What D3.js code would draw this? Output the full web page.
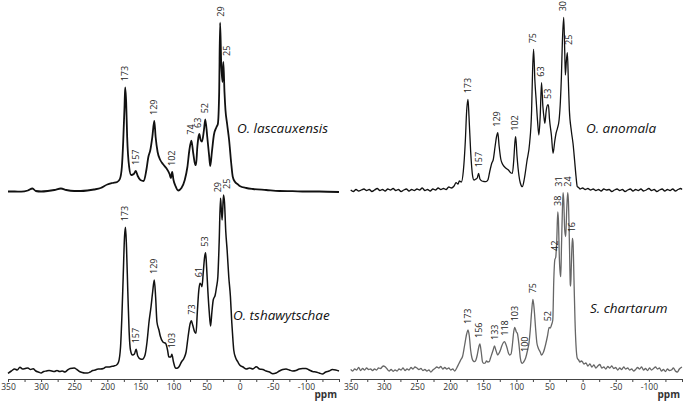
<!DOCTYPE html>
<html>
<head>
<meta charset="utf-8">
<script src="https://cdn.jsdelivr.net/npm/d3@7"></script>
<style>
  body { margin: 0; background: #fff; }
  svg { display: block; }
  text { font-family: "Open Sans", sans-serif; }
</style>
</head>
<body>
<svg id="chart" width="685" height="403"></svg>
<script>
// spectra: [ppm, intensity above baseline]
var lascauxensis = [[350,0.5],[340,0.5],[330,0.3],[320,1.5],[313,3.5],[308,1],[300,0.5],[290,1],[280,2],[270,3.5],[262,2],[250,1],[240,1],[230,1.5],[220,2.5],[210,4],[200,7.5],[192,9],[185,10],[181,13],[178,25],[176,50],[174,85],[173,104.7],[171.5,90],[170,55],[167,25],[164,17],[160,18],[157,21],[154,16],[150,12],[145,11],[141,22],[138,35],[135,42],[132,55],[129,71],[127,55],[124,40],[120,32],[116,28],[111,24],[106,18],[104,14],[102,20],[100,12],[97,6],[93,1.5],[88,4],[83,12],[79,25],[76,42],[73,51.3],[70,38],[67,27],[66,27],[64,45],[62,56],[61,58],[59,52],[57,50.3],[54,62],[52,72.7],[49,55],[46,35],[44.5,26],[42,40],[39,57],[35,65],[33,68],[31,100],[29.6,169.3],[28,130],[26,110],[24.7,130],[23,100],[21.5,82],[19,68],[16,52],[13,30],[10.5,15.3],[7,10],[3.5,8],[0,6],[-10,4],[-20,3],[-40,2],[-60,1],[-80,0.8],[-100,0.5],[-120,0.5],[-150,0]];
var lascauxensisPeaks = [173,157,129,102,74,63,52,29,25];

var anomala = [[350,1],[346,-0.5],[342,1.5],[338,0],[334,1],[330,2],[326,0.5],[322,1.5],[318,-0.5],[314,1],[310,2.5],[306,0.5],[302,1.5],[298,0],[294,2],[290,1],[286,2.5],[282,0.5],[278,1.5],[274,-0.5],[270,1],[266,2],[262,0],[258,1.5],[254,0.5],[250,2],[246,1],[242,3],[238,0.5],[234,1.5],[230,0],[226,2],[222,1],[218,3],[214,1.5],[210,2.5],[206,1.5],[202,4],[198,3],[194,5],[191,8.3],[188,7],[186,10],[183,9],[180,20],[177,50],[175,80],[173,91.7],[171.5,75],[169,40],[166,15],[164,11],[161,12],[159,13],[157,17.7],[155,12],[152,10],[149,9.5],[146,9.3],[143,11],[140,20],[137,28],[135,31],[132,45],[130,54],[128,58.3],[126,45],[123.5,32],[121.5,27.7],[119,25],[116,23],[112,21],[108,18],[106,17.7],[104,30],[102,50],[101,54.3],[99,35],[96,15],[94,8],[91,4.3],[88,12],[84,30],[80,47.7],[77,80],[75.5,120],[74,141.7],[72,110],[70,90],[68,70],[66,56],[64,75],[62,108.3],[60,85],[58,72],[57,67.7],[55,80],[53,86],[51.6,86],[50,72],[47,55],[44.6,37.7],[42,50],[40,58],[38,62.7],[35.5,71],[33.5,90],[32,114.3],[30.5,150],[28.5,173.7],[27,140],[26,116],[24.5,130],[23,138.3],[21.5,110],[20,81],[17,60],[14.5,47.7],[12,30],[10,15],[8,4.3],[6,3.5],[4,2],[0,3],[-4,1.5],[-8,2.5],[-12,1],[-16,2],[-20,0.5],[-24,1.5],[-28,0],[-32,2],[-36,1],[-40,1.5],[-44,-0.5],[-48,1],[-52,2],[-56,0.5],[-60,1.5],[-64,-0.5],[-68,1],[-72,2],[-76,0],[-80,1.5],[-84,0.5],[-88,2],[-92,0],[-96,1],[-100,2.5],[-104,0.5],[-108,1.5],[-112,-0.5],[-116,1],[-120,2],[-124,0],[-128,1.5],[-132,0.5],[-136,2],[-140,0],[-144,1.5],[-148,2.5],[-150,1.5]];
var anomalaPeaks = [173,157,129,102,75,63,53,30,25];

var tshawytschae = [[350,-1.3],[345,1],[340,3],[336,2],[332,4.7],[328,3],[324,3.5],[320,4],[316,2.5],[312,3.3],[308,1],[304,0],[300,-1],[296,0.5],[292,1],[288,1.5],[284,1],[280,0.5],[276,1.5],[272,0.5],[268,1],[264,0],[260,2],[256,3.5],[250,4],[246,2.5],[242,0.5],[238,-0.5],[234,-1],[230,-1],[226,0],[222,1.5],[218,2],[214,3],[210,3],[206,3.5],[202,5],[198,5],[194,5.5],[190,6],[186,7],[183,10],[180,25],[178,55],[176,95],[174,135],[172.5,144.7],[171,125],[169,80],[167,40],[165,22],[162,17],[159,18],[156.5,22.7],[154,16],[150,13],[147,12.7],[143,17],[140,30],[137,50],[134,65],[131.5,80],[129,92],[127,75],[125,50],[122,42],[120,36],[116,30],[112,28.7],[109,22],[107,15],[104,15],[102.5,17.7],[100,10],[97,4],[95,3.7],[92,5],[88,10],[84,14],[81,20],[78,35],[75,48],[73,51.3],[71,47],[68,40],[66,38.7],[64,60],[62,80],[60,88.7],[58,87],[57,85.3],[55,100],[53,115],[51.5,119.3],[50,105],[48,80],[46,60],[44,46],[42,60],[40,72],[37,77],[35,85],[33,95.3],[31,130],[29,173.7],[28,165],[26.5,152],[24.5,177],[23,170],[21,140],[19,122],[16.5,95],[14,75.3],[12,50],[10,30],[9,22],[6,14],[3,10.3],[0,7],[-5,5],[-10,3],[-15,4],[-20,3],[-25,5.3],[-30,3],[-35,2.5],[-40,1],[-45,0],[-50,-1.7],[-55,-1],[-60,1],[-65,2.5],[-70,3],[-75,2],[-80,1],[-85,1.5],[-90,3],[-95,3.5],[-100,3.5],[-105,2],[-110,0.5],[-115,0],[-120,-1],[-125,-2],[-130,0],[-135,1],[-140,2.5],[-145,2],[-150,1]];
var tshawytschaePeaks = [173,157,129,103,73,61,53,29,25];

var chartarum = [[350,0.7],[347,-1],[344,1],[341,0],[338,2.5],[335,-0.5],[332,1.5],[329,0],[326,2],[323,0.5],[320,1],[317,-0.5],[314,1],[311,0],[308,2],[305,1.5],[301,4],[298,3.3],[295,1],[292,-1],[289,0.5],[286,-1.3],[283,0],[280,-1],[277,1],[274,0],[271,2],[268,-0.5],[265,1],[262,0],[259,2.5],[256,1],[253,3],[250,2],[247,0.5],[244,1.5],[241,-0.5],[238,0.5],[235,-1],[232,0],[229,-2],[226,0],[223,1.5],[220,3],[217,2],[214,3.5],[211,1],[208,2.5],[205,1],[202,2],[199,0],[196,1],[193,-1],[190,2],[187,6],[184,10],[181,14],[178,25],[175,36],[173,40],[171,34],[169,20],[167,12],[165,9],[163,8.3],[161,10],[159,15],[157,22],[155,26],[153,18],[151,8],[149,6.7],[147,7],[145,9],[143,8],[141,8.3],[139,12],[137,16],[135,20],[133,24],[131,20],[129,16],[128,15],[126,17],[124,20],[122,24],[120,27],[118,28.3],[116,26],[114,22],[112,17],[110,15],[108,16],[106,25],[104,38],[102.5,42.7],[100,38],[98.5,36.7],[96,25],[94,12],[92,7],[91,6.7],[89,8],[86,12],[83,20],[81,26.7],[79,40],[77,58],[75,70.7],[73,60],[71,42],[69,27],[67,22],[64,18],[62,15],[59,18],[56,25],[53,34],[50.5,42.7],[49,42],[46.5,46],[45,50],[43.5,90],[42,110],[40.5,113],[39,130],[37.5,158],[36.5,150],[35,110],[33.5,95],[33,93.3],[32,120],[30.5,160],[29.5,177.3],[28.5,170],[27,140],[25.5,133.3],[24,160],[22.5,177.3],[21.5,170],[20,130],[18.5,85],[18,84],[17,105],[15.5,131.7],[14.5,128],[13,90],[11.5,50],[10,25],[8,11.7],[6,10],[4,8],[2,9],[0,8],[-2,6],[-5,7],[-8,4],[-11,6],[-14,3],[-17,5],[-20,2],[-23,4],[-26,5.5],[-29,2],[-32,3],[-35,1],[-38,3.5],[-41,2],[-44,4],[-47,1.5],[-50,2.5],[-53,0],[-56,2],[-59,0.5],[-62,3],[-65,1],[-68,2],[-71,0],[-74,1],[-77,-1],[-80,0.5],[-83,2.5],[-86,1],[-89,3],[-92,0],[-95,1.5],[-98,-0.5],[-101,2],[-104,0],[-107,1.5],[-110,3],[-113,1],[-116,2],[-119,-1],[-122,0.5],[-125,-1.5],[-128,1],[-131,-0.5],[-134,0],[-137,2],[-140,-1],[-143,-2],[-146,1],[-150,3]];
var chartarumPeaks = [173,156,133,118,103,100,75,52,42,38,31,24,16];

var tickValues = [350,325,300,275,250,225,200,175,150,125,100,75,50,25,0,-25,-50,-75,-100,-125,-150];

var svg = d3.select("#chart");

// moved: label drawn over another ppm; nudge: sideways pixel shift for crowded labels
var panels = [
  {name: "O. lascauxensis", data: lascauxensis, peaks: lascauxensisPeaks, x0: 8, x1: 339, base: 192, color: "#111", width: 1.8, nameX: 237, nameY: 133, axis: false, nudge: {25: 4}},
  {name: "O. anomala", data: anomala, peaks: anomalaPeaks, x0: 350.7, x1: 682, base: 191, color: "#111", width: 1.3, nameX: 586, nameY: 133, axis: false, nudge: {25: 3}},
  {name: "O. tshawytschae", data: tshawytschae, peaks: tshawytschaePeaks, x0: 8, x1: 339, base: 372, color: "#111", width: 1.5, nameX: 233, nameY: 320, axis: true, nudge: {29: -3, 25: 4}},
  {name: "S. chartarum", data: chartarum, peaks: chartarumPeaks, x0: 350.7, x1: 682, base: 370, color: "#666", width: 1.3, nameX: 590, nameY: 313, axis: true, moved: {100: 87}, nudge: {31: -3, 24: 1}}
];

panels.forEach(function(p){ drawPanel(p); });

function drawPanel(p){
  var x = d3.scaleLinear().domain([350, -150]).range([p.x0, p.x1]);
  var y = d3.scaleLinear().domain([0, 180]).range([p.base, p.base - 180]);
  var g = svg.append("g");

  var line = d3.line()
    .x(function(d){ return x(d[0]); })
    .y(function(d){ return y(d[1]); })
    .curve(d3.curveMonotoneX);

  g.append("path")
    .datum(p.data)
    .attr("d", line)
    .attr("fill", "none")
    .attr("stroke", p.color)
    .attr("stroke-width", p.width)
    .attr("stroke-linejoin", "round");

  // peak labels, sitting just above the local maximum
  g.selectAll("text.peak")
    .data(p.peaks)
    .enter()
    .append("text")
    .attr("class", "peak")
    .attr("transform", function(d){
      var at = (p.moved && p.moved[d]) ? p.moved[d] : d;
      var shift = (p.nudge && p.nudge[d]) ? p.nudge[d] : 0;
      var near = p.data.filter(function(v){ return Math.abs(v[0] - at) <= 2; });
      var top = d3.max(near, function(v){ return v[1]; });
      return "translate(" + (x(at) + shift) + "," + (y(top) - 6) + ") rotate(-90)";
    })
    .attr("dy", "0.35em")
    .attr("font-size", "9px")
    .attr("fill", "#222")
    .text(function(d){ return d; });

  g.append("text")
    .attr("x", p.nameX)
    .attr("y", p.nameY)
    .attr("font-size", "13.5px")
    .attr("font-style", "italic")
    .attr("fill", "#111")
    .text(p.name);

  if(p.axis){
    var axis = d3.axisBottom(x)
      .tickValues(tickValues)
      .tickSize(3)
      .tickSizeOuter(0)
      .tickPadding(2)
      .tickFormat(function(d){ return d % 50 === 0 && d > -150 ? String(d) : ""; });

    var ax = svg.append("g")
      .attr("transform", "translate(0,379)")
      .call(axis);
    ax.select(".domain").attr("stroke", "#444");
    ax.selectAll(".tick line").attr("stroke", "#444");
    ax.selectAll(".tick text")
      .attr("font-size", "8.5px")
      .attr("font-family", "Open Sans, sans-serif")
      .attr("fill", "#333");

    svg.append("text")
      .attr("x", p.x1 - 2)
      .attr("y", 398)
      .attr("text-anchor", "end")
      .attr("font-size", "10px")
      .attr("font-weight", "bold")
      .attr("fill", "#333")
      .text("ppm");
  }
}
</script>
</body>
</html>
